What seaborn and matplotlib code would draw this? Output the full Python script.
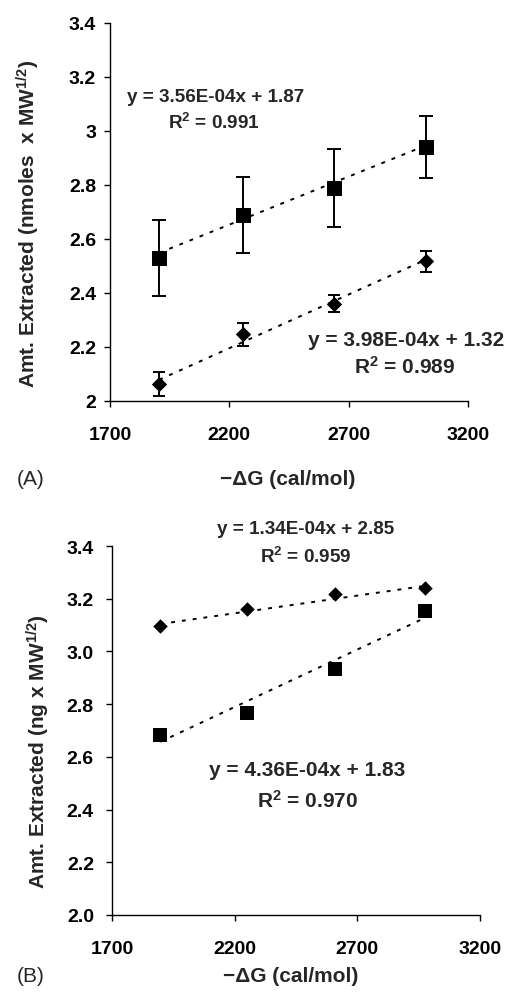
import matplotlib
matplotlib.use("Agg")
import numpy as np
import pandas as pd
import matplotlib.pyplot as plt
import seaborn as sns

# ---- data -------------------------------------------------------------
# Panel A: amount extracted (nmoles x MW^1/2) vs -dG
dg_a = [1906, 2259, 2637, 3022]
sq_a = [2.53, 2.69, 2.79, 2.94]
sq_a_err = [0.140, 0.140, 0.145, 0.115]
dm_a = [2.064, 2.247, 2.361, 2.517]
dm_a_err = [0.044, 0.042, 0.033, 0.040]

# Panel B: amount extracted (ng x MW^1/2) vs -dG
dg_b = [1897, 2250, 2607, 2975]
dm_b = [3.097, 3.160, 3.217, 3.240]
sq_b = [2.684, 2.768, 2.935, 3.154]

# linear trend lines (slope, intercept, R^2)
fit_sq_a = (3.56e-4, 1.87, 0.991)
fit_dm_a = (3.98e-4, 1.32, 0.989)
fit_dm_b = (1.34e-4, 2.85, 0.959)
fit_sq_b = (4.36e-4, 1.83, 0.970)

x_ticks = [1700, 2200, 2700, 3200]
y_ticks = [2.0, 2.2, 2.4, 2.6, 2.8, 3.0, 3.2, 3.4]
y_labels_a = ["2", "2.2", "2.4", "2.6", "2.8", "3", "3.2", "3.4"]
y_labels_b = ["2.0", "2.2", "2.4", "2.6", "2.8", "3.0", "3.2", "3.4"]

# ---- style ------------------------------------------------------------
sns.set_theme(style="ticks")
plt.rcParams["font.family"] = ["Liberation Sans", "DejaVu Sans"]
plt.rcParams.update({
    "mathtext.fontset": "custom",
    "mathtext.rm": "Liberation Sans:bold",
    "mathtext.it": "Liberation Sans:bold",
    "mathtext.bf": "Liberation Sans:bold",
    "mathtext.default": "rm",
    "axes.edgecolor": "black",
    "axes.linewidth": 1.0,
    "xtick.color": "black",
    "ytick.color": "black",
})

W, H = 508, 995
fig = plt.figure(figsize=(W / 100, H / 100), dpi=100)
fig.patch.set_facecolor("white")


def px_axes(left, top, right, bottom):
    return fig.add_axes([left / W, 1 - bottom / H, (right - left) / W, (bottom - top) / H])


def trend(ax, xs, fit):
    slope, icpt, _ = fit
    xl = np.array([xs[0], xs[-1]], dtype=float)
    df = pd.DataFrame({"x": xl, "y": slope * xl + icpt})
    sns.lineplot(data=df, x="x", y="y", ax=ax, color="black", lw=1.4,
                 linestyle=(0, (2.0, 3.6)), zorder=2)


def eq_text(fit):
    slope, icpt, _ = fit
    mant, exp = f"{slope:.2E}".split("E")
    return f"y = {mant}E-{abs(int(exp)):02d}x + {icpt:.2f}"


def r2_text(fit):
    return f"R$^2$ = {fit[2]:.3f}"


def style_axes(ax, ylabels, ypad):
    ax.set_xlim(1700, 3200)
    ax.set_ylim(2.0, 3.4)
    ax.set_xticks(x_ticks)
    ax.set_xticklabels([str(t) for t in x_ticks], fontsize=14, fontweight="bold")
    ax.set_yticks(y_ticks)
    ax.set_yticklabels(ylabels, fontsize=14, fontweight="bold")
    ax.tick_params(axis="x", direction="out", length=4, width=1, pad=14)
    ax.tick_params(axis="y", direction="out", length=4, width=1, pad=ypad)
    ax.set_facecolor("white")
    sns.despine(ax=ax)
    ax.grid(False)


# ---- panel A ----------------------------------------------------------
ax_a = px_axes(110, 24, 468, 402)
trend(ax_a, dg_a, fit_sq_a)
trend(ax_a, dg_a, fit_dm_a)
ax_a.errorbar(dg_a, sq_a, yerr=sq_a_err, fmt="none", ecolor="black",
              elinewidth=1.4, capsize=4.7, capthick=1.4, zorder=3)
ax_a.errorbar(dg_a, dm_a, yerr=dm_a_err, fmt="none", ecolor="black",
              elinewidth=1.4, capsize=4.3, capthick=1.4, zorder=3)
sns.scatterplot(x=dg_a, y=sq_a, ax=ax_a, marker="s", s=10.8 ** 2,
                color="black", edgecolor="black", linewidth=0, zorder=4)
sns.scatterplot(x=dg_a, y=dm_a, ax=ax_a, marker="D", s=7.8 ** 2,
                color="black", edgecolor="black", linewidth=0, zorder=4)
style_axes(ax_a, y_labels_a, 6)
ax_a.set_xlabel("−ΔG (cal/mol)", fontsize=15, fontweight="bold")
ax_a.set_ylabel("Amt. Extracted (nmoles  x MW$^{1/2}$)", fontsize=15,
                fontweight="bold", ha="center", va="center")
ax_a.xaxis.set_label_coords(0.497, -0.206)
ax_a.xaxis.label.set_va("center")
ax_a.yaxis.set_label_coords(-0.229, 0.471)

fig.text(216 / W, 1 - 98 / H, eq_text(fit_sq_a), fontsize=13.6,
         fontweight="bold", ha="center", va="center")
fig.text(214 / W, 1 - 123 / H, r2_text(fit_sq_a), fontsize=13.6,
         fontweight="bold", ha="center", va="center")
fig.text(406 / W, 1 - 341 / H, eq_text(fit_dm_a), fontsize=15,
         fontweight="bold", ha="center", va="center")
fig.text(405 / W, 1 - 367 / H, r2_text(fit_dm_a), fontsize=15,
         fontweight="bold", ha="center", va="center")
fig.text(31 / W, 1 - 480 / H, "(A)", fontsize=15, ha="center", va="center")

# ---- panel B ----------------------------------------------------------
ax_b = px_axes(112, 547, 480, 916)
trend(ax_b, dg_b, fit_dm_b)
trend(ax_b, dg_b, fit_sq_b)
sns.scatterplot(x=dg_b, y=sq_b, ax=ax_b, marker="s", s=10.0 ** 2,
                color="black", edgecolor="black", linewidth=0, zorder=4)
sns.scatterplot(x=dg_b, y=dm_b, ax=ax_b, marker="D", s=7.4 ** 2,
                color="black", edgecolor="black", linewidth=0, zorder=4)
style_axes(ax_b, y_labels_b, 9)
ax_b.set_xlabel("−ΔG (cal/mol)", fontsize=15, fontweight="bold")
ax_b.set_ylabel("Amt. Extracted (ng x MW$^{1/2}$)", fontsize=15,
                fontweight="bold", ha="center", va="center")
ax_b.xaxis.set_label_coords(0.486, -0.165)
ax_b.xaxis.label.set_va("center")
ax_b.yaxis.set_label_coords((38 - 112) / 368, 0.447)

fig.text(306 / W, 1 - 530 / H, eq_text(fit_dm_b), fontsize=13.6,
         fontweight="bold", ha="center", va="center")
fig.text(306 / W, 1 - 557 / H, r2_text(fit_dm_b), fontsize=13.6,
         fontweight="bold", ha="center", va="center")
fig.text(307 / W, 1 - 771 / H, eq_text(fit_sq_b), fontsize=15,
         fontweight="bold", ha="center", va="center")
fig.text(308 / W, 1 - 801 / H, r2_text(fit_sq_b), fontsize=15,
         fontweight="bold", ha="center", va="center")
fig.text(31 / W, 1 - 977 / H, "(B)", fontsize=15, ha="center", va="center")

fig.savefig("out.png", dpi=100, facecolor="white")
